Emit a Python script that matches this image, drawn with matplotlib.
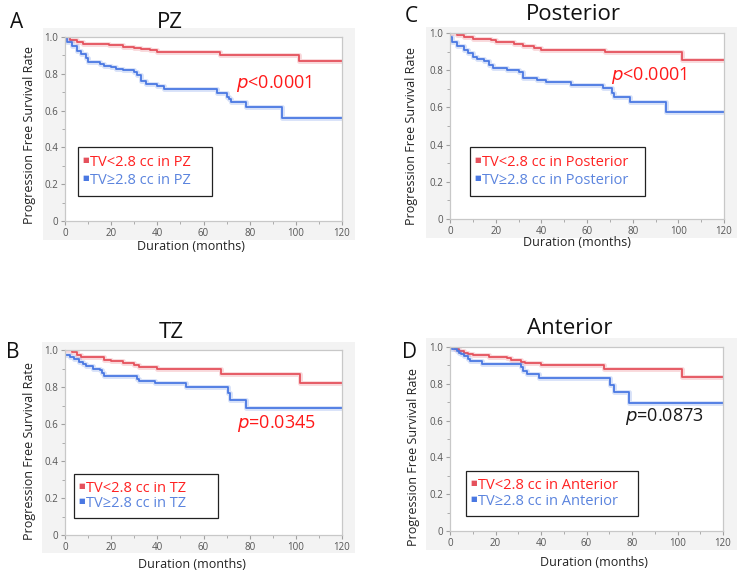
import matplotlib.pyplot as plt
from matplotlib.patches import Rectangle

plt.rcParams['font.family'] = ['Open Sans', 'DejaVu Sans']

# Kaplan-Meier step data (months, survival rate)
pz_low_t = [0, 2, 5, 8, 19, 25, 30, 33, 37, 40, 67, 101.5, 120]
pz_low_s = [1.0, 0.985, 0.975, 0.962, 0.955, 0.948, 0.94, 0.935, 0.928, 0.918, 0.902, 0.867, 0.867]
pz_high_t = [0, 1, 3, 5, 7, 9, 10, 15, 17, 20, 22, 25, 30, 31, 33, 35, 40, 43, 66, 70, 71, 72, 78.5, 94, 120]
pz_high_s = [1.0, 0.973, 0.95, 0.925, 0.905, 0.885, 0.864, 0.852, 0.842, 0.835, 0.826, 0.82, 0.81, 0.795, 0.762, 0.745, 0.732, 0.72, 0.697, 0.675, 0.662, 0.648, 0.62, 0.562, 0.562]

post_low_t = [0, 3, 6, 10, 18, 20, 28, 32, 37, 40, 67.7, 101.8, 120]
post_low_s = [1.0, 0.99, 0.98, 0.968, 0.96, 0.95, 0.94, 0.93, 0.92, 0.91, 0.896, 0.856, 0.856]
post_high_t = [0, 1, 3, 6, 8, 10, 12, 15, 17, 19, 25, 30, 32, 38, 42, 53, 67, 71, 72, 79, 94.8, 120]
post_high_s = [0.977, 0.95, 0.93, 0.91, 0.89, 0.872, 0.86, 0.85, 0.83, 0.811, 0.80, 0.793, 0.757, 0.747, 0.738, 0.721, 0.703, 0.68, 0.655, 0.631, 0.574, 0.574]

tz_low_t = [0, 3, 5, 7, 17, 20, 25, 30, 32, 40, 67.7, 101.8, 120]
tz_low_s = [1.0, 0.99, 0.975, 0.962, 0.948, 0.94, 0.928, 0.918, 0.91, 0.895, 0.87, 0.823, 0.823]
tz_high_t = [0, 2, 4, 6, 8, 9, 12, 15, 16, 17, 31, 32, 39, 52.6, 70.4, 71.5, 78.6, 120]
tz_high_s = [0.973, 0.96, 0.95, 0.935, 0.925, 0.912, 0.9, 0.89, 0.875, 0.859, 0.845, 0.834, 0.82, 0.798, 0.766, 0.73, 0.685, 0.685]

ant_low_t = [0, 2, 4, 6, 8, 10, 17, 25, 27, 31, 33, 40, 67.6, 102, 120]
ant_low_s = [1.0, 0.99, 0.98, 0.97, 0.96, 0.957, 0.948, 0.94, 0.928, 0.92, 0.913, 0.903, 0.879, 0.839, 0.839]
ant_high_t = [0, 1, 3, 4, 5, 6, 8, 9, 14, 31, 32, 34, 39, 70.5, 72, 78.6, 120]
ant_high_s = [1.0, 0.99, 0.98, 0.97, 0.96, 0.95, 0.935, 0.922, 0.908, 0.89, 0.872, 0.852, 0.83, 0.792, 0.753, 0.697, 0.697]

titles = ['PZ', 'Posterior', 'TZ', 'Anterior']
letters = ['A', 'C', 'B', 'D']
zones = ['PZ', 'Posterior', 'TZ', 'Anterior']
p_texts = ['<0.0001', '<0.0001', '=0.0345', '=0.0873']
p_colors = ['#ff1a1a', '#ff1a1a', '#ff1a1a', '#1a1a1a']

W, H = 748, 579
RED = '#e5515c'
BLUE = '#4a78e2'

fig = plt.figure(figsize=(W / 100, H / 100), dpi=100)


def fx(px):
    return px / W


def fy(py):
    return 1 - py / H


# layout in pixels: axes box, gray backdrop, title, letter, ylabel (x, y), xlabel (x, y),
# p-value anchor (data), legend box
panels = [
    dict(ax=(65, 37, 342, 221), bg=(43, 28, 355, 240), title=(170, 22), letter=(17, 22),
         ylab=(30, 135), xlab=(191, 247), p=(74, 0.745), leg=(78, 147, 212, 196),
         data=(pz_low_t, pz_low_s, pz_high_t, pz_high_s)),
    dict(ax=(450, 33, 724, 219), bg=(426, 27, 737, 238), title=(573, 15), letter=(411, 17),
         ylab=(412, 136), xlab=(577, 243), p=(70.5, 0.77), leg=(470, 147, 645, 196),
         data=(post_low_t, post_low_s, post_high_t, post_high_s)),
    dict(ax=(65, 350, 342, 535), bg=(42, 342, 355, 553), title=(171, 333), letter=(13, 353),
         ylab=(30, 451), xlab=(192, 565), p=(74.5, 0.605), leg=(74, 474, 218, 518),
         data=(tz_low_t, tz_low_s, tz_high_t, tz_high_s)),
    dict(ax=(450, 347, 723, 531), bg=(426, 338, 737, 550), title=(570, 328), letter=(410, 353),
         ylab=(413, 457), xlab=(594, 563), p=(77, 0.62), leg=(466, 471, 638, 516),
         data=(ant_low_t, ant_low_s, ant_high_t, ant_high_s)),
]

for i, pn in enumerate(panels):
    x0, y0, x1, y1 = pn['bg']
    fig.patches.append(Rectangle((fx(x0), fy(y1)), fx(x1 - x0), (y1 - y0) / H,
                                 transform=fig.transFigure, facecolor='#f3f3f3',
                                 edgecolor='none', zorder=0))
    l, t, r, b = pn['ax']
    ax = fig.add_axes([fx(l), fy(b), fx(r - l), (b - t) / H])
    ax.set_zorder(2)
    ax.set_facecolor('white')

    lt, ls, ht, hs = pn['data']
    ax.step(lt, ls, where='post', color=RED, lw=3.5, alpha=0.22)
    ax.step(lt, ls, where='post', color=RED, lw=1.3)
    ax.step(ht, hs, where='post', color=BLUE, lw=3.5, alpha=0.22)
    ax.step(ht, hs, where='post', color=BLUE, lw=1.3)

    ax.set_xlim(0, 120)
    ax.set_ylim(0, 1.0)
    ax.set_xticks(range(0, 121, 20))
    ax.set_xticks(range(0, 121, 10), minor=True)
    ax.set_yticks([0, 0.2, 0.4, 0.6, 0.8, 1.0])
    ax.set_yticklabels(['0', '0.2', '0.4', '0.6', '0.8', '1.0'])
    ax.set_yticks([0.1, 0.3, 0.5, 0.7, 0.9], minor=True)
    ax.tick_params(which='both', direction='out', color='#a0a0a0', labelsize=7,
                   labelcolor='#555555', pad=2)
    ax.tick_params(which='major', length=3)
    ax.tick_params(which='minor', length=2)
    for s in ax.spines.values():
        s.set_color('#c8c8c8')
        s.set_linewidth(0.9)

    ax.text(pn['p'][0], pn['p'][1], '$p$' + p_texts[i], fontsize=13,
            color=p_colors[i], ha='left', va='center')

    fig.text(fx(pn['title'][0]), fy(pn['title'][1]), titles[i], fontsize=16,
             ha='center', va='center', color='#111111')
    fig.text(fx(pn['letter'][0]), fy(pn['letter'][1]), letters[i], fontsize=15,
             ha='center', va='center', color='#111111', zorder=3)
    fig.text(fx(pn['ylab'][0]), fy(pn['ylab'][1]), 'Progression Free Survival Rate',
             rotation=90, fontsize=9, ha='center', va='center', color='#222222')
    fig.text(fx(pn['xlab'][0]), fy(pn['xlab'][1]), 'Duration (months)', fontsize=9,
             ha='center', va='center', color='#222222')

    # hand-made legend box
    gx0, gy0, gx1, gy1 = pn['leg']
    fig.patches.append(Rectangle((fx(gx0), fy(gy1)), fx(gx1 - gx0), (gy1 - gy0) / H,
                                 transform=fig.transFigure, facecolor='white',
                                 edgecolor='#222222', lw=0.9, zorder=5))
    rows = [('TV<2.8 cc in ' + zones[i], RED, '#ff2222'),
            ('TV\u22652.8 cc in ' + zones[i], BLUE, '#5b84de')]
    for k, (label, mc, tc) in enumerate(rows):
        yy = gy0 + (gy1 - gy0) * (0.32 + 0.36 * k)
        fig.text(fx(gx0 + 4), fy(yy - 2), '\u25a0', fontsize=5, color=mc,
                 ha='left', va='center', zorder=6)
        fig.text(fx(gx0 + 12), fy(yy), label, fontsize=10.5, color=tc,
                 ha='left', va='center', zorder=6)

fig.savefig('out.png', dpi=100)
